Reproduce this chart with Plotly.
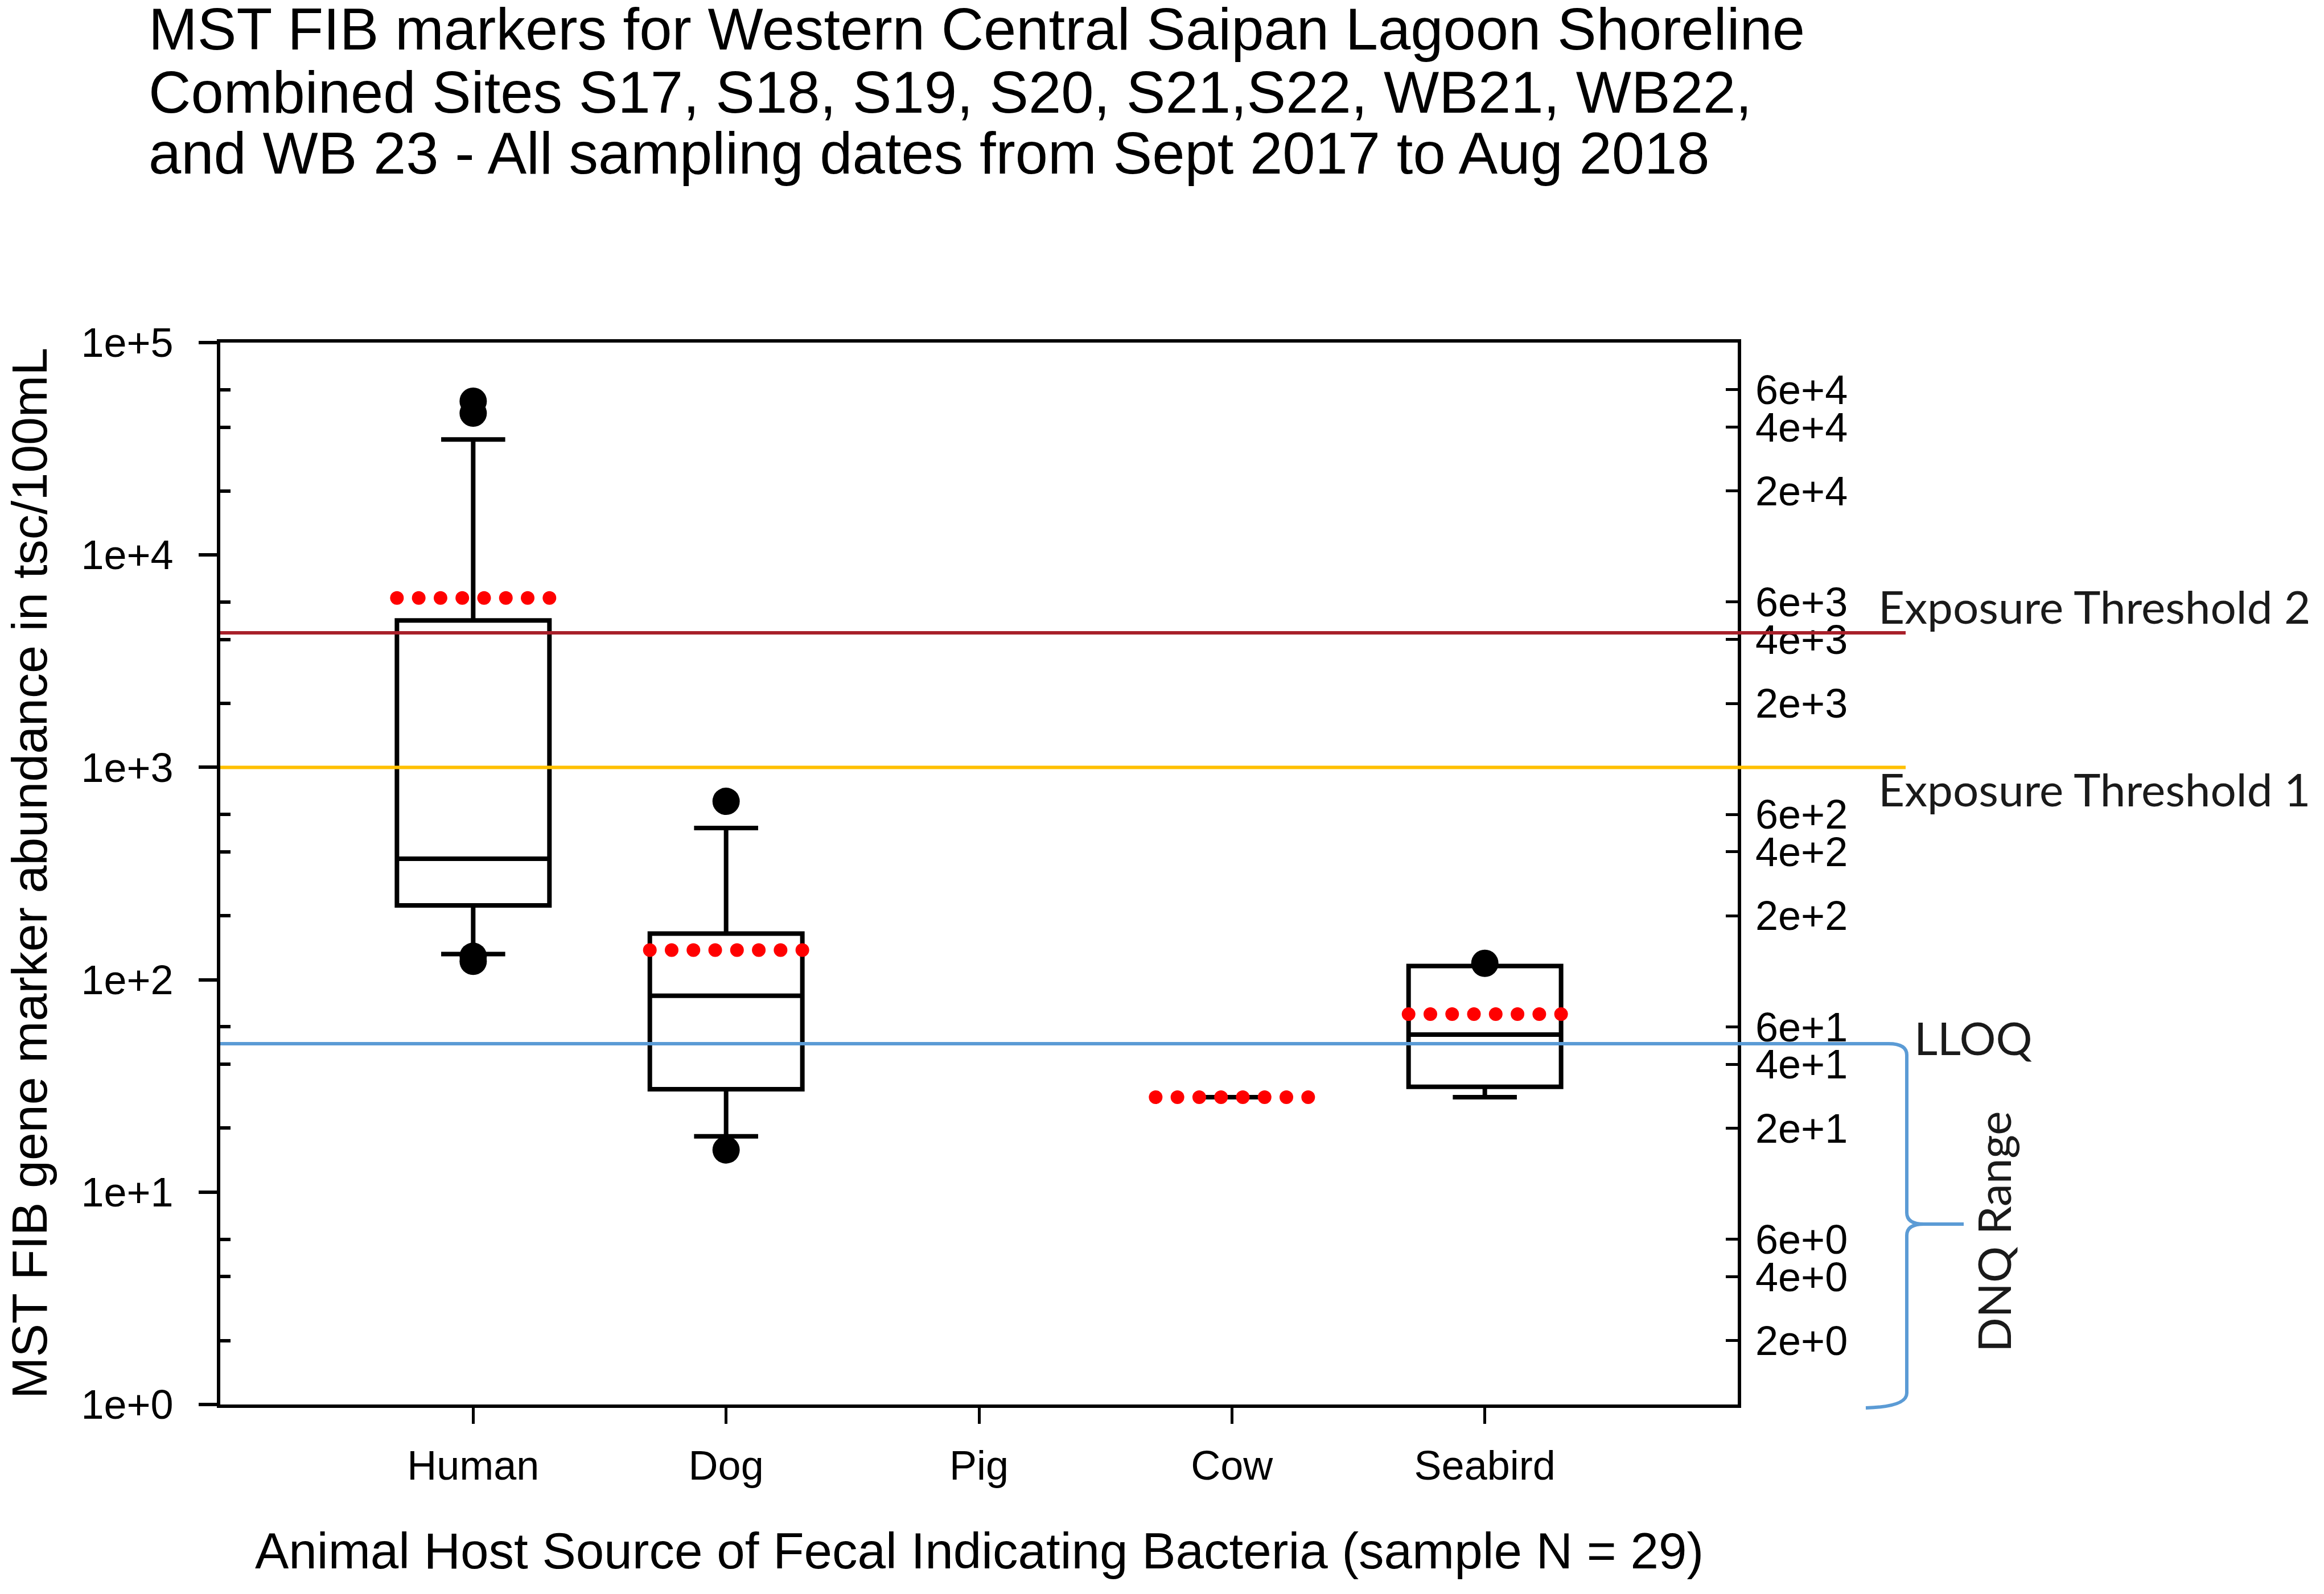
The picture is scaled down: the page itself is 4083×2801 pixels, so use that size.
import numpy as np
import plotly.graph_objects as go

# categories on the x axis
categories = ["Human", "Dog", "Pig", "Cow", "Seabird"]

# box statistics (tsc/100mL)
box_cats = ["Human", "Dog", "Seabird"]
q1 = [224, 30.5, 31.3]
median = [371, 84, 55.2]
q3 = [4920, 165, 116]
lower_whisker = [132, 18.3, 28.0]
upper_whisker = [35000, 518, 116]

# cow collapses to a single value
cow_value = [28.0]

# means (red dotted lines)
mean_cats = ["Human", "Dog", "Cow", "Seabird"]
means = [6270, 138, 28.0, 68.9]

# outliers
outlier_cats = ["Human", "Human", "Human", "Human", "Dog", "Dog", "Seabird"]
outlier_vals = [53000, 46500, 129, 122, 692, 15.8, 119.5]

# reference levels
exposure_threshold_2 = 4300
exposure_threshold_1 = 1000
lloq = 50

# axis ticks
left_tickvals = [1, 10, 100, 1000, 10000, 100000]
left_ticktext = ["1e+0", "1e+1", "1e+2", "1e+3", "1e+4", "1e+5"]
minor_tickvals = [m * 10 ** k for k in range(5) for m in (2, 4, 6)]
right_ticktext = [f"{m}e+{k}" for k in range(5) for m in (2, 4, 6)]

# ---- layout geometry (pixels of the 4083x2801 page) ----
W, H = 4083, 2801
OFF = 8  # default body margin of the html page
L, R, T, B = 387, 3053, 602, 2468
PW, PH = R - L, B - T
Y_RANGE = [0, 5]
BOX_W = 0.603
ARIAL = "Liberation Sans, Arial, sans-serif"
CALIBRI = "Lato, Carlito, Calibri, sans-serif"


def px_x(px):
    return (px - L) / PW


def px_y(py):
    return (B - py) / PH


def log_to_paper(v):
    return (np.log10(v) - Y_RANGE[0]) / (Y_RANGE[1] - Y_RANGE[0])


pos = {c: i for i, c in enumerate(categories)}

fig = go.Figure()

fig.add_trace(go.Box(
    x=[pos[c] for c in box_cats],
    q1=q1, median=median, q3=q3,
    lowerfence=lower_whisker, upperfence=upper_whisker,
    width=BOX_W, whiskerwidth=0.42,
    line=dict(color="black", width=8),
    fillcolor="rgba(0,0,0,0)",
    boxpoints=False, showlegend=False, hoverinfo="skip",
))

fig.add_trace(go.Box(
    x=[pos["Cow"]],
    q1=cow_value, median=cow_value, q3=cow_value,
    lowerfence=cow_value, upperfence=cow_value,
    width=0.25, whiskerwidth=1,
    line=dict(color="black", width=8),
    fillcolor="rgba(0,0,0,0)",
    boxpoints=False, showlegend=False, hoverinfo="skip",
))

fig.add_trace(go.Scatter(
    x=[pos[c] for c in outlier_cats], y=outlier_vals,
    mode="markers", marker=dict(color="black", size=48),
    showlegend=False, hoverinfo="skip",
))

# dotted mean lines drawn as rows of red dots across the box width
offsets = np.linspace(-BOX_W / 2, BOX_W / 2, 8)
mx, my = [], []
for c, m in zip(mean_cats, means):
    mx.extend(pos[c] + offsets)
    my.extend([m] * len(offsets))
fig.add_trace(go.Scatter(
    x=mx, y=my, mode="markers",
    marker=dict(color="#FF0000", size=24),
    showlegend=False, hoverinfo="skip",
))

# dummy trace so the right-hand axis is drawn
fig.add_trace(go.Scatter(x=[None], y=[None], yaxis="y2", showlegend=False, hoverinfo="skip"))

line_end = px_x(3348)
fig.add_shape(type="line", xref="paper", yref="y", x0=0, x1=line_end,
              y0=exposure_threshold_2, y1=exposure_threshold_2,
              line=dict(color="#A8202A", width=6))
fig.add_shape(type="line", xref="paper", yref="y", x0=0, x1=line_end,
              y0=exposure_threshold_1, y1=exposure_threshold_1,
              line=dict(color="#FFC000", width=6))
brace_x0 = px_x(3318)
fig.add_shape(type="line", xref="paper", yref="y", x0=0, x1=brace_x0,
              y0=lloq, y1=lloq, line=dict(color="#5B9BD5", width=6))

# curly brace marking the DNQ range (LLOQ down to the axis floor)
yt = log_to_paper(lloq)
yb = log_to_paper(1)
ym = (yt + yb) / 2
bx = px_x(3350)
tip = px_x(3450)
dy = 20 / PH
dx = 30 / PW
brace = (
    f"M {brace_x0},{yt} Q {bx},{yt} {bx},{yt - dy} "
    f"L {bx},{ym + dy} Q {bx},{ym} {bx + dx},{ym} L {tip},{ym} "
    f"M {bx + dx},{ym} Q {bx},{ym} {bx},{ym - dy} "
    f"L {bx},{yb + dy} Q {bx},{yb - 4 / PH} {px_x(3278)},{yb - 6 / PH}"
)
fig.add_shape(type="path", xref="paper", yref="paper", path=brace,
              line=dict(color="#5B9BD5", width=6))

annotations = []
title_lines = [
    "MST FIB markers for Western Central Saipan Lagoon Shoreline",
    "Combined Sites S17, S18, S19, S20, S21,S22, WB21, WB22,",
    "and WB 23 - All sampling dates from Sept 2017 to Aug 2018",
]
for line, cy in zip(title_lines, [52, 162, 270]):
    annotations.append(dict(
        text=line, xref="paper", yref="paper", x=px_x(259), y=px_y(cy),
        xanchor="left", yanchor="middle", showarrow=False,
        font=dict(family=ARIAL, size=103, color="black"),
    ))

annotations.append(dict(
    text="MST FIB gene marker abundance in tsc/100mL",
    xref="paper", yref="paper", x=px_x(51), y=px_y(1535),
    xanchor="center", yanchor="middle", textangle=-90, showarrow=False,
    font=dict(family=ARIAL, size=88, color="black"),
))
annotations.append(dict(
    text="Animal Host Source of Fecal Indicating Bacteria (sample N = 29)",
    xref="paper", yref="paper", x=px_x(1720), y=px_y(2725),
    xanchor="center", yanchor="middle", showarrow=False,
    font=dict(family=ARIAL, size=89, color="black"),
))

label_font = dict(family=CALIBRI, size=80, color="#1A1A1A")
annotations += [
    dict(text="Exposure Threshold 2", xref="paper", yref="paper",
         x=px_x(3298), y=px_y(1065), xanchor="left", yanchor="middle",
         showarrow=False, font=label_font),
    dict(text="Exposure Threshold 1", xref="paper", yref="paper",
         x=px_x(3298), y=px_y(1386), xanchor="left", yanchor="middle",
         showarrow=False, font=label_font),
    dict(text="LLOQ", xref="paper", yref="paper",
         x=px_x(3361), y=px_y(1823), xanchor="left", yanchor="middle",
         showarrow=False, font=label_font),
    dict(text="DNQ Range", xref="paper", yref="paper",
         x=px_x(3502), y=px_y(2164), xanchor="center", yanchor="middle",
         textangle=-90, showarrow=False, font=label_font),
]

tick_font = dict(family=ARIAL, size=72, color="black")

fig_w, fig_h = W - 2 * OFF, H - 2 * OFF
fig.update_layout(
    width=fig_w, height=fig_h,
    margin=dict(l=L - OFF, r=fig_w - (R - OFF), t=T - OFF, b=fig_h - (B - OFF), pad=0),
    paper_bgcolor="white", plot_bgcolor="white",
    showlegend=False,
    annotations=annotations,
    xaxis=dict(
        range=[-1, 5], tickmode="array",
        tickvals=list(range(len(categories))), ticktext=categories,
        ticks="outside", ticklen=28, tickwidth=5, tickcolor="black",
        showline=True, linecolor="black", linewidth=6, mirror=True,
        showgrid=False, zeroline=False, tickfont=tick_font,
        ticklabelstandoff=12,
    ),
    yaxis=dict(
        type="log", range=Y_RANGE, tickmode="array",
        tickvals=left_tickvals, ticktext=left_ticktext,
        ticks="outside", ticklen=32, tickwidth=6, tickcolor="black",
        minor=dict(tickmode="array", tickvals=minor_tickvals, ticks="inside",
                   ticklen=18, tickwidth=6, tickcolor="black", showgrid=False),
        showline=True, linecolor="black", linewidth=6, mirror=True,
        showgrid=False, zeroline=False, tickfont=tick_font,
        ticklabelstandoff=30,
    ),
    yaxis2=dict(
        type="log", range=Y_RANGE, overlaying="y", side="right",
        tickmode="array", tickvals=minor_tickvals, ticktext=right_ticktext,
        ticks="inside", ticklen=21, tickwidth=5, tickcolor="black",
        showline=False, showgrid=False, zeroline=False, tickfont=tick_font,
        ticklabelstandoff=30,
    ),
)

fig.write_html("out.html")
